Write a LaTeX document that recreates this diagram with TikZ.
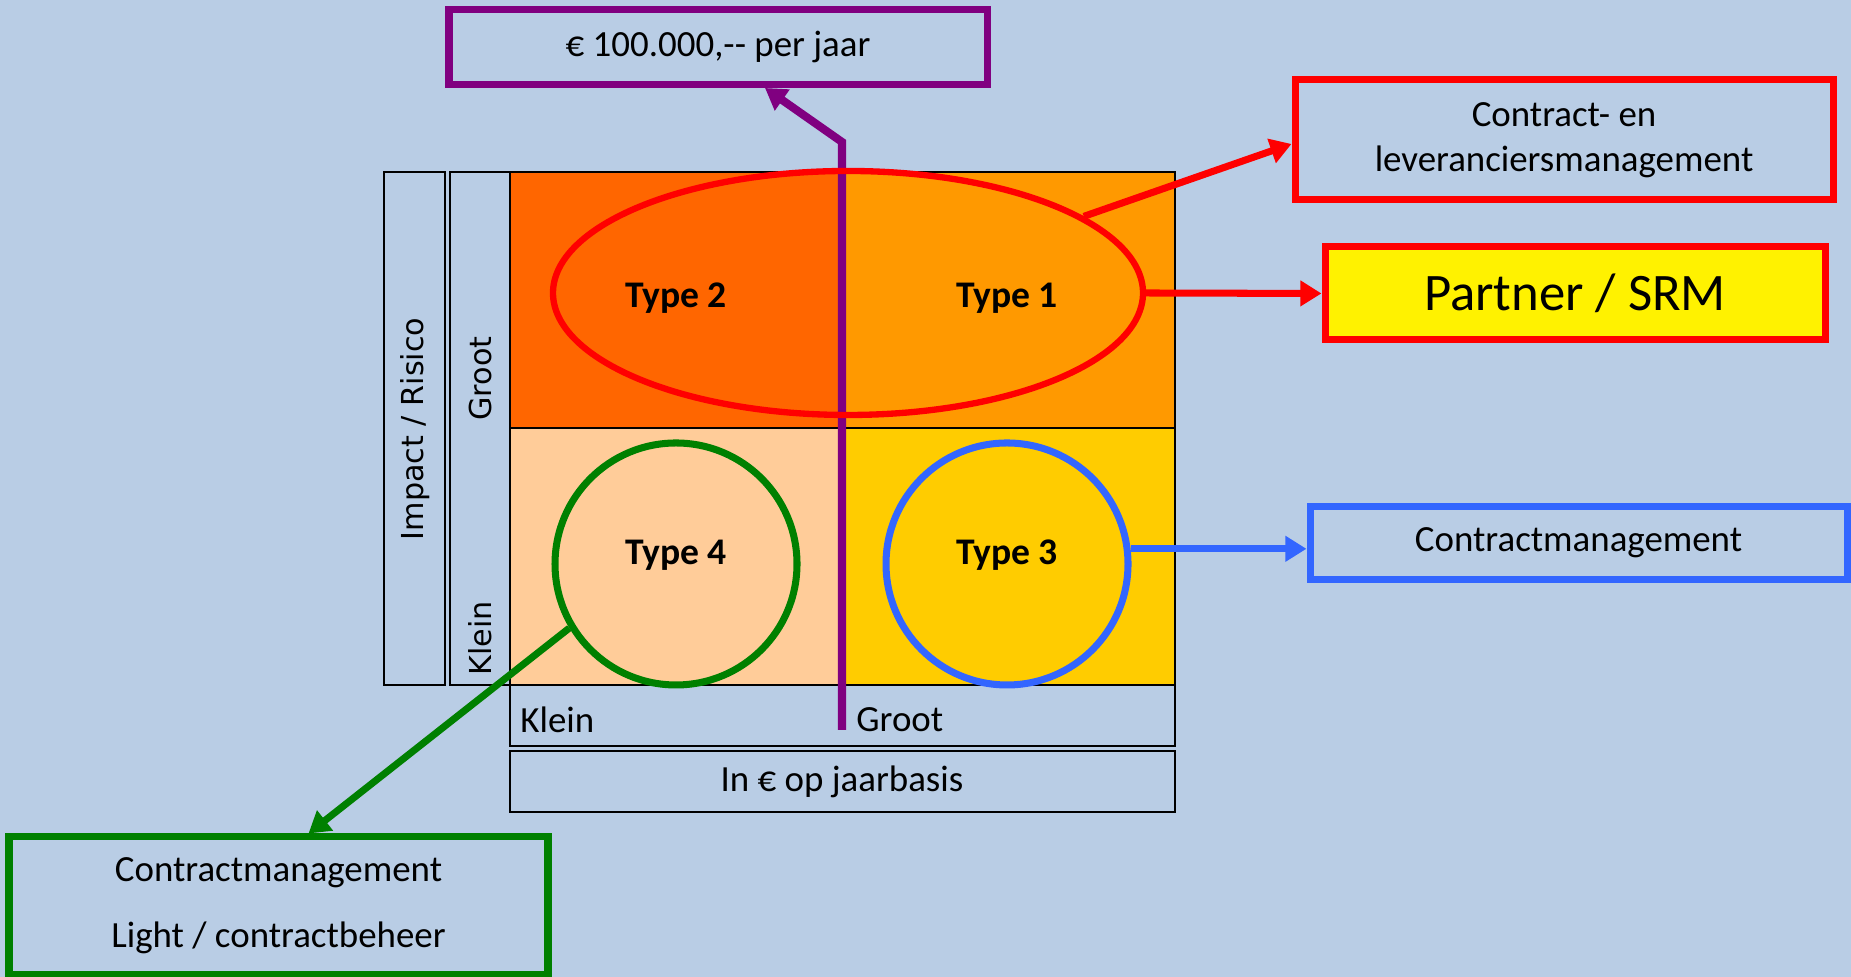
\documentclass[tikz,border=0pt]{standalone}
\usepackage{fontspec}
\setmainfont{Carlito}
\newfontfamily\sidefont{DejaVu Sans}
\usetikzlibrary{arrows.meta}
\usetikzlibrary{shapes.geometric}

\definecolor{bgblue}{RGB}{185,205,229}
\definecolor{typeone}{RGB}{255,153,0}
\definecolor{typetwo}{RGB}{255,102,0}
\definecolor{typethree}{RGB}{255,204,0}
\definecolor{typefour}{RGB}{255,204,153}
\definecolor{lnpurple}{RGB}{128,0,128}
\definecolor{lnred}{RGB}{255,0,0}
\definecolor{lngreen}{RGB}{0,128,0}
\definecolor{lnblue}{RGB}{51,102,255}

\begin{document}
\begin{tikzpicture}[>={Triangle[length=6pt,width=7pt]},
        txt/.style={font=\fontsize{10.5}{12.8}\selectfont},
        typetxt/.style={font=\fontsize{10.7}{12.8}\selectfont\bfseries},
        side/.style={font=\sidefont\fontsize{8.6}{10}\selectfont,rotate=90},
        labelbox/.style={draw,line width=2pt,inner sep=0pt,align=center,txt},
        cell/.style={draw=black,line width=0.5pt},
        conn/.style={line width=2pt,->}]
        \fill[bgblue](0,0)rectangle(18.51,9.77);
        \useasboundingbox(0,0)rectangle(18.51,9.77);
        % kwadranten
        \filldraw[cell,fill=typetwo](5.10,5.49)rectangle(8.42,8.05);
        \filldraw[cell,fill=typeone](8.42,5.49)rectangle(11.75,8.05);
        \filldraw[cell,fill=typefour](5.10,2.92)rectangle(8.42,5.49);
        \filldraw[cell,fill=typethree](8.42,2.92)rectangle(11.75,5.49);
        \draw[cell](3.84,2.92)rectangle(4.45,8.05);
        \draw[cell](4.50,2.92)rectangle(5.10,8.05);
        \draw[cell](5.10,2.31)rectangle(11.75,2.92);
        \draw[cell](5.10,1.65)rectangle(11.75,2.26);
        \node[side](impact)at(4.15,5.48){Impact / Risico};
        \node[side,anchor=west](vgroot)at(4.80,5.44){Groot};
        \node[side,anchor=west](vklein)at(4.80,2.89){Klein};
        \node[txt,anchor=west](hklein)at(5.08,2.57){Klein};
        \node[txt,anchor=west](hgroot)at(8.44,2.57){Groot};
        \node[txt](basis)at(8.42,1.95){In € op jaarbasis};
        % grens
        \node[labelbox,draw=lnpurple,minimum width=5.38cm,minimum height=0.75cm](limit)at(7.18,9.30){€ 100.000,-{}- per jaar};
        \coordinate(split)at(8.42,2.47);
        \coordinate(bend)at(8.42,8.35);
        \draw[conn,lnpurple,line width=2.3pt](split)--(bend)--([xshift=4.7mm]limit.south);
        % typen
        \node[ellipse,draw=lnred,line width=1.8pt,minimum width=5.9cm,minimum height=2.44cm,inner sep=0pt](bigell)at(8.48,6.84){};
        \node[circle,draw=lngreen,line width=2pt,minimum size=2.42cm,inner sep=0pt](kfour)at(6.76,4.13){};
        \node[circle,draw=lnblue,line width=2pt,minimum size=2.42cm,inner sep=0pt](kthree)at(10.07,4.13){};
        \node[typetxt](ttwo)at(6.76,6.79){Type 2};
        \node[typetxt](tone)at(10.07,6.79){Type 1};
        \node[typetxt](tfour)at(6.76,4.22){Type 4};
        \node[typetxt](tthree)at(10.07,4.22){Type 3};
        % aanpak
        \node[labelbox,draw=lnred,minimum width=5.38cm,minimum height=1.20cm](ctrl)at(15.64,8.37){Contract- en\\leveranciersmanagement};
        \node[labelbox,draw=lnred,fill=yellow,minimum width=5.0cm,minimum height=0.93cm,font=\fontsize{15}{18}\selectfont](srm)at(15.75,6.835){Partner / SRM};
        \node[labelbox,draw=lnblue,minimum width=5.37cm,minimum height=0.73cm](cmgt)at(15.785,4.34){Contractmanagement};
        \node[labelbox,draw=lngreen,minimum width=5.39cm,minimum height=1.38cm,font=\fontsize{10.5}{18.8}\selectfont](light)at(2.785,0.71){\raisebox{-0.5mm}{Contractmanagement}\\\raisebox{-0.5mm}{Light / contractbeheer}};
        \draw[conn,lnred](bigell.18)--([yshift=-0.4mm]ctrl.west);
        \draw[conn,lnred](bigell.east)--(srm.west);
        \draw[conn,lnblue](kthree.7)--(kthree.7-|cmgt.west);
        \draw[conn,lngreen](kfour.211)--([xshift=3mm]light.north);
    \end{tikzpicture}
\end{document}
